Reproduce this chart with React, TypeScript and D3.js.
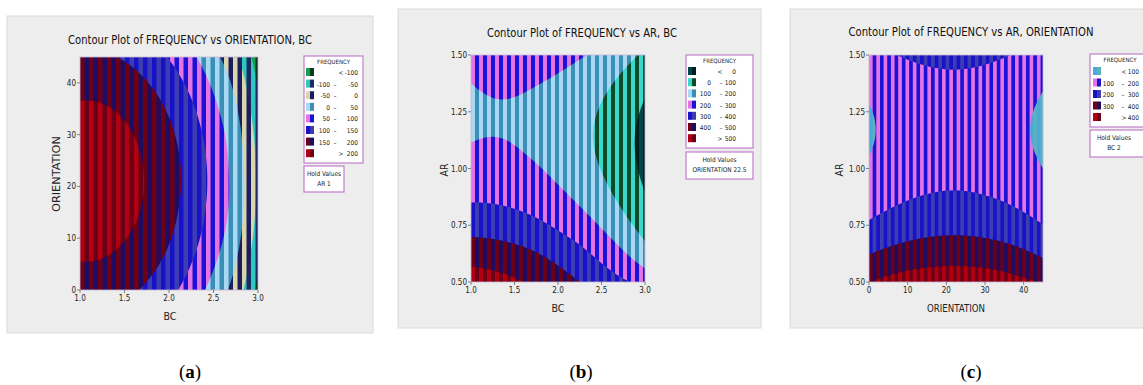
import React from 'react';
import * as d3 from 'd3';

const W = 1143;
const H = 385;

// tick values on the axes
const bcTicks = [1.0, 1.5, 2.0, 2.5, 3.0];
const orientTicks = [0, 10, 20, 30, 40];
const arTicks = [0.5, 0.75, 1.0, 1.25, 1.5];

const bcGrid = [1.0, 1.25, 1.5, 1.75, 2.0, 2.25, 2.5, 2.75, 3.0];
const orientGrid = [0, 7.5, 15, 22.5, 30, 37.5, 45];
const arGrid = [0.5, 0.625, 0.75, 0.875, 1.0, 1.125, 1.25, 1.375, 1.5];

// (a) FREQUENCY, rows = ORIENTATION (bottom to top), cols = BC, hold AR 1
const freqA = [
  [175, 173, 162, 142, 114, 77, 31, -23, -115],
  [207, 205, 194, 174, 146, 109, 64, 9, -83],
  [226, 223, 212, 193, 164, 127, 82, 28, -64],
  [230, 227, 216, 197, 169, 132, 86, 30, -60],
  [220, 218, 207, 187, 159, 122, 76, 20, -70],
  [196, 194, 183, 163, 135, 98, 52, -4, -94],
  [158, 156, 145, 125, 97, 60, 14, -40, -130],
];

// (b) FREQUENCY, rows = AR, cols = BC, hold ORIENTATION 22.5
const freqB = [
  [555, 537, 512, 480, 442, 400, 357, 314, 270],
  [455, 447, 430, 404, 368, 325, 272, 210, 140],
  [364, 358, 344, 320, 286, 244, 192, 130, 60],
  [286, 284, 272, 251, 221, 182, 133, 75, 7],
  [231, 232, 223, 206, 179, 142, 97, 42, -23],
  [198, 202, 197, 182, 159, 125, 83, 31, -30],
  [188, 195, 193, 182, 161, 131, 92, 43, -15],
  [200, 211, 212, 203, 186, 159, 123, 77, 23],
  [235, 249, 253, 248, 233, 210, 177, 134, 83],
];

// (c) FREQUENCY, rows = AR, cols = ORIENTATION, hold BC 2
const freqC = [
  [396, 436, 456, 462, 454, 428, 391],
  [297, 331, 351, 357, 349, 326, 285],
  [213, 247, 267, 273, 265, 243, 202],
  [151, 185, 205, 211, 203, 181, 140],
  [111, 145, 165, 171, 163, 140, 100],
  [92, 127, 147, 152, 144, 122, 81],
  [95, 130, 150, 155, 147, 125, 84],
  [120, 154, 174, 180, 172, 150, 109],
  [167, 201, 221, 227, 218, 196, 155],
];

const levelsA = [-100, -50, 0, 50, 100, 150, 200];
const levelsB = [0, 100, 200, 300, 400, 500];
const levelsC = [100, 200, 300, 400];

// each contour band is drawn as two-colour vertical stripes
const stripes = {
  green: ['#14a046', '#0b3a22'],
  teal: ['#2ec8bf', '#1b2a62'],
  beige: ['#d9d6ac', '#1d1c5e'],
  lightBlue: ['#a9d8f2', '#3b8fb6'],
  magenta: ['#e374e3', '#1c12d6'],
  blue: ['#1712c8', '#3d3db2'],
  navyRed: ['#6c0016', '#1e0b62'],
  red: ['#b00012', '#6c0016'],
  darkTeal: ['#004646', '#001c1e'],
  greenTeal: ['#3ad8c8', '#0b4a2a'],
  skyBlue: ['#4aa8da', '#5ab2bc'],
};
const bandsA = [stripes.green, stripes.teal, stripes.beige, stripes.lightBlue, stripes.magenta, stripes.blue, stripes.navyRed, stripes.red];
const bandsB = [stripes.darkTeal, stripes.greenTeal, stripes.lightBlue, stripes.magenta, stripes.blue, stripes.navyRed, stripes.red];
const bandsC = [stripes.skyBlue, stripes.magenta, stripes.blue, stripes.navyRed, stripes.red];

const FONT = "'DejaVu Sans Condensed', 'Liberation Sans Narrow', 'Liberation Sans', Arial, sans-serif";

// Catmull-Rom through the read-off grid, only used to draw smooth contour lines
const at = (arr, i) => {
  const n = arr.length;
  if (i < 0) return 3 * arr[0] - 3 * arr[1] + arr[2];
  if (i >= n) return 3 * arr[n - 1] - 3 * arr[n - 2] + arr[n - 3];
  return arr[i];
};
const cr = (p0, p1, p2, p3, t) =>
  0.5 * (2 * p1 + (-p0 + p2) * t + (2 * p0 - 5 * p1 + 4 * p2 - p3) * t * t + (-p0 + 3 * p1 - 3 * p2 + p3) * t * t * t);
const interp1 = (arr, f) => {
  const i = Math.max(0, Math.min(Math.floor(f), arr.length - 2));
  const t = f - i;
  return cr(at(arr, i - 1), at(arr, i), at(arr, i + 1), at(arr, i + 2), t);
};
const interp2 = (grid, fx, fy) => interp1(grid.map((row) => interp1(row, fx)), fy);

const ContourPanel = ({ cfg }) => {
  const { id, frame, plot, period } = cfg;
  const x = d3.scaleLinear().domain(cfg.xDomain).range([plot.x, plot.x + plot.w]);
  const y = d3.scaleLinear().domain(cfg.yDomain).range([plot.y + plot.h, plot.y]);
  const fx = d3.scaleLinear().domain(d3.extent(cfg.xGrid)).range([0, cfg.xGrid.length - 1]);
  const fy = d3.scaleLinear().domain(d3.extent(cfg.yGrid)).range([0, cfg.yGrid.length - 1]);

  const nx = plot.w;
  const ny = plot.h;
  const values = new Float64Array(nx * ny);
  for (let j = 0; j < ny; j++) {
    const gy = fy(y.invert(plot.y + j + 0.5));
    for (let i = 0; i < nx; i++) {
      const xv = x.invert(plot.x + i + 0.5);
      values[j * nx + i] = interp2(cfg.values, fx(xv), gy);
    }
  }
  const contours = d3.contours().size([nx, ny]).thresholds(cfg.levels)(values);
  const path = d3.geoPath(d3.geoIdentity().translate([plot.x, plot.y]));

  const lg = cfg.legend;
  const n = cfg.levels.length;

  return (
    <g>
      <defs>
        {cfg.bands.map((c, k) => (
          <pattern key={k} id={`${id}-b${k}`} patternUnits="userSpaceOnUse" x={plot.x} y={0} width={period} height={20}>
            <rect width={period} height={20} fill={c[1]} />
            <rect width={period * 0.5} height={20} fill={c[0]} />
          </pattern>
        ))}
        <clipPath id={`${id}-clip`}>
          <rect x={plot.x} y={plot.y} width={plot.w} height={plot.h} />
        </clipPath>
      </defs>
      <rect x={frame.x} y={frame.y} width={frame.w} height={frame.h} fill="#ededed" stroke="#dadada" />
      <text x={cfg.titleX} y={cfg.titleY} textAnchor="middle" fontSize={13} fill="#111" textLength={cfg.titleLen} lengthAdjust="spacingAndGlyphs">
        {cfg.title}
      </text>

      <g clipPath={`url(#${id}-clip)`}>
        <rect x={plot.x} y={plot.y} width={plot.w} height={plot.h} fill={`url(#${id}-b0)`} />
        {contours.map((c, k) => (
          <path key={k} d={path(c)} fill={`url(#${id}-b${k + 1})`} fillRule="evenodd" />
        ))}
      </g>
      <rect x={plot.x} y={plot.y} width={plot.w} height={plot.h} fill="none" stroke="#c9b6d4" strokeWidth={0.8} />

      {cfg.yTicks.map((t) => (
        <g key={t}>
          <line x1={plot.x - 3} x2={plot.x} y1={y(t)} y2={y(t)} stroke="#666" strokeWidth={0.8} />
          <text x={plot.x - 4} y={y(t) + 3} textAnchor="end" fontSize={8} fill="#222">
            {cfg.yFmt(t)}
          </text>
        </g>
      ))}
      {cfg.xTicks.map((t) => (
        <g key={t}>
          <line x1={x(t)} x2={x(t)} y1={plot.y + plot.h} y2={plot.y + plot.h + 3} stroke="#666" strokeWidth={0.8} />
          <text x={x(t)} y={plot.y + plot.h + 11} textAnchor="middle" fontSize={8} fill="#222">
            {cfg.xFmt(t)}
          </text>
        </g>
      ))}
      <text x={cfg.xLabel.x} y={cfg.xLabel.y} textAnchor="middle" fontSize={10} fill="#222" textLength={cfg.xLabel.len} lengthAdjust="spacingAndGlyphs">
        {cfg.xLabel.text}
      </text>
      <text
        transform={`translate(${cfg.yLabel.x},${cfg.yLabel.y}) rotate(-90)`}
        textAnchor="middle"
        fontSize={10}
        fill="#222"
        textLength={cfg.yLabel.len}
        lengthAdjust="spacingAndGlyphs"
      >
        {cfg.yLabel.text}
      </text>

      {/* legend */}
      <rect x={lg.x} y={lg.y} width={lg.w} height={lg.h} fill="#fff" stroke="#c07fca" strokeWidth={1.2} />
      <text x={lg.x + lg.w / 2} y={lg.y + 8} textAnchor="middle" fontSize={6} fill="#222">
        FREQUENCY
      </text>
      {cfg.bands.map((c, k) => {
        const ry = lg.row0 + k * lg.step;
        return (
          <g key={k} fontSize={6.5} fill="#222">
            <rect x={lg.sw} y={ry - 6} width={4} height={8} fill={c[0]} />
            <rect x={lg.sw + 4} y={ry - 6} width={4} height={8} fill={c[1]} />
            {k === 0 && (
              <text x={lg.sign} y={ry + 1} textAnchor="middle">
                {'<'}
              </text>
            )}
            {k === n && (
              <text x={lg.sign} y={ry + 1} textAnchor="middle">
                {'>'}
              </text>
            )}
            {k > 0 && k < n && (
              <>
                <text x={lg.low} y={ry + 1} textAnchor="end">
                  {cfg.levels[k - 1]}
                </text>
                <text x={lg.dash} y={ry + 1} textAnchor="middle">
                  –
                </text>
              </>
            )}
            <text x={lg.high} y={ry + 1} textAnchor="end">
              {k === n ? cfg.levels[n - 1] : cfg.levels[k]}
            </text>
          </g>
        );
      })}
      <rect x={cfg.hold.x} y={cfg.hold.y} width={cfg.hold.w} height={cfg.hold.h} fill="#fff" stroke="#c07fca" strokeWidth={1.2} />
      {cfg.hold.lines.map((s, i) => (
        <text key={i} x={cfg.hold.cx} y={cfg.hold.y + 10 + i * 9.5} textAnchor="middle" fontSize={6.5} fill="#222">
          {s}
        </text>
      ))}

      <text x={cfg.tagX} y={378} textAnchor="middle" fontSize={19} fontFamily="'Liberation Serif', 'DejaVu Serif', serif" fill="#000">
        (<tspan fontWeight="bold">{cfg.tag}</tspan>)
      </text>
    </g>
  );
};

const fmt1 = d3.format('.1f');
const fmt2 = d3.format('.2f');
const fmt0 = d3.format('d');

const panelA = {
  id: 'pa',
  frame: { x: 7, y: 16, w: 366, h: 317 },
  plot: { x: 80, y: 57, w: 178, h: 233 },
  period: 9,
  title: 'Contour Plot of FREQUENCY vs ORIENTATION, BC',
  titleX: 190,
  titleY: 44,
  titleLen: 244,
  xDomain: [1, 3],
  yDomain: [0, 45],
  xGrid: bcGrid,
  yGrid: orientGrid,
  values: freqA,
  levels: levelsA,
  bands: bandsA,
  xTicks: bcTicks,
  yTicks: orientTicks,
  xFmt: fmt1,
  yFmt: fmt0,
  xLabel: { text: 'BC', x: 170, y: 320, len: 13 },
  yLabel: { text: 'ORIENTATION', x: 60, y: 174, len: 76 },
  legend: { x: 304, y: 56, w: 59, h: 107, row0: 74, step: 11.6, sw: 306, low: 330, dash: 335, high: 358, sign: 341 },
  hold: { x: 304, y: 166, w: 40, h: 26, cx: 324, lines: ['Hold Values', 'AR  1'] },
  tag: 'a',
  tagX: 190,
};

const panelB = {
  id: 'pb',
  frame: { x: 398, y: 9, w: 363, h: 319 },
  plot: { x: 471, y: 55, w: 174, h: 227 },
  period: 8,
  title: 'Contour Plot of FREQUENCY vs AR, BC',
  titleX: 582,
  titleY: 37,
  titleLen: 190,
  xDomain: [1, 3],
  yDomain: [0.5, 1.5],
  xGrid: bcGrid,
  yGrid: arGrid,
  values: freqB,
  levels: levelsB,
  bands: bandsB,
  xTicks: bcTicks,
  yTicks: arTicks,
  xFmt: fmt1,
  yFmt: fmt2,
  xLabel: { text: 'BC', x: 558, y: 312, len: 13 },
  yLabel: { text: 'AR', x: 448, y: 170, len: 13 },
  legend: { x: 686, y: 55, w: 67, h: 93, row0: 73, step: 11.2, sw: 688, low: 711, dash: 721, high: 736, sign: 720 },
  hold: { x: 686, y: 152, w: 67, h: 27, cx: 719.5, lines: ['Hold Values', 'ORIENTATION  22.5'] },
  tag: 'b',
  tagX: 581,
};

const panelC = {
  id: 'pc',
  frame: { x: 790, y: 9, w: 360, h: 319 },
  plot: { x: 869, y: 55, w: 174, h: 227 },
  period: 7.3,
  title: 'Contour Plot of FREQUENCY vs AR, ORIENTATION',
  titleX: 971,
  titleY: 36,
  titleLen: 245,
  xDomain: [0, 45],
  yDomain: [0.5, 1.5],
  xGrid: orientGrid,
  yGrid: arGrid,
  values: freqC,
  levels: levelsC,
  bands: bandsC,
  xTicks: orientTicks,
  yTicks: arTicks,
  xFmt: fmt0,
  yFmt: fmt2,
  xLabel: { text: 'ORIENTATION', x: 956, y: 312, len: 58 },
  yLabel: { text: 'AR', x: 843, y: 170, len: 13 },
  legend: { x: 1090, y: 54, w: 60, h: 73, row0: 73, step: 11.5, sw: 1093, low: 1114, dash: 1123, high: 1139, sign: 1124 },
  hold: { x: 1090, y: 130, w: 60, h: 27, cx: 1114, lines: ['Hold Values', 'BC  2'] },
  tag: 'c',
  tagX: 971,
};

const App = () => (
  <svg
    width={W}
    height={H}
    viewBox={`0 0 ${W} ${H}`}
    style={{ position: 'absolute', left: 0, top: 0, background: '#fff' }}
    fontFamily={FONT}
  >
    <ContourPanel cfg={panelA} />
    <ContourPanel cfg={panelB} />
    <ContourPanel cfg={panelC} />
  </svg>
);

export default App;
